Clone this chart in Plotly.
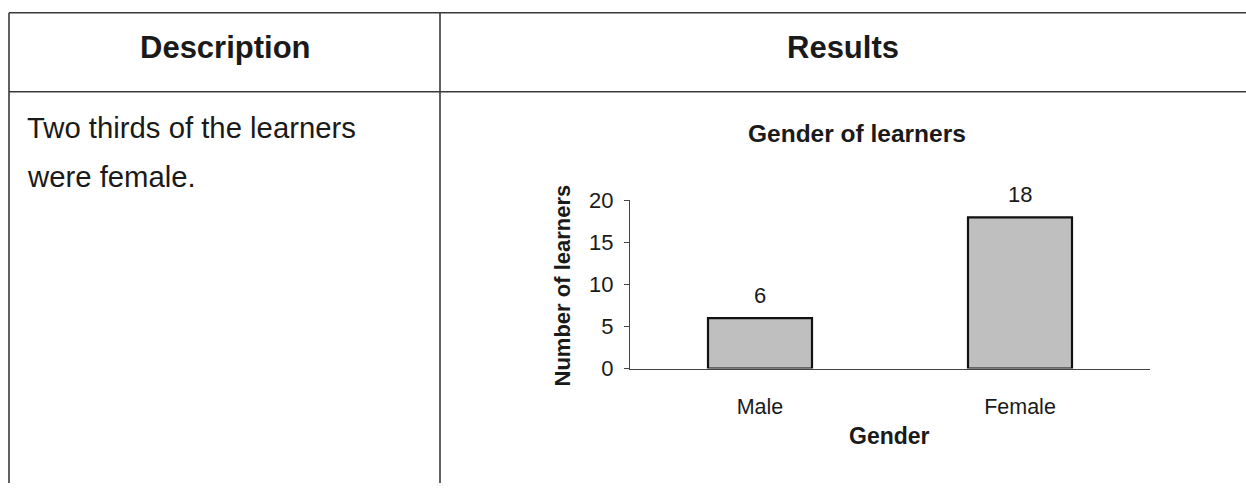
import plotly.graph_objects as go

# Survey data
genders = ["Male", "Female"]
learner_counts = [6, 18]
y_ticks = [0, 5, 10, 15, 20]

W, H = 1246, 496
FONT = "Liberation Sans, Arial, sans-serif"
INK = "#1a1a1a"
LINE = "#3a3a3a"


def px(x):
    return x / W


def py(y):
    return 1 - y / H


fig = go.Figure()

fig.add_trace(go.Bar(
    x=genders,
    y=learner_counts,
    width=0.4,
    marker=dict(color="#bfbfbf", line=dict(color="#111111", width=2.2)),
    showlegend=False,
    hoverinfo="x+y",
))

# value labels above each bar
annotations = []
for g, v in zip(genders, learner_counts):
    annotations.append(dict(
        x=g, y=v, xref="x", yref="y", text=str(v), showarrow=False,
        yanchor="bottom", yshift=8,
        font=dict(family=FONT, size=22, color=INK),
    ))

# table headers and description cell
annotations += [
    dict(x=px(225), y=py(37), xref="paper", yref="paper", text="<b>Description</b>",
         showarrow=False, xanchor="center", yanchor="middle",
         font=dict(family=FONT, size=31, color=INK)),
    dict(x=px(843), y=py(37), xref="paper", yref="paper", text="<b>Results</b>",
         showarrow=False, xanchor="center", yanchor="middle",
         font=dict(family=FONT, size=31, color=INK)),
    dict(x=px(25), y=py(122), xref="paper", yref="paper", text="Two thirds of the learners",
         showarrow=False, xanchor="left", yanchor="middle",
         font=dict(family=FONT, size=29.3, color=INK)),
    dict(x=px(25), y=py(173), xref="paper", yref="paper", text="were female.",
         showarrow=False, xanchor="left", yanchor="middle",
         font=dict(family=FONT, size=29.3, color=INK)),
    # chart titles
    dict(x=px(857), y=py(128), xref="paper", yref="paper", text="<b>Gender of learners</b>",
         showarrow=False, xanchor="center", yanchor="middle",
         font=dict(family=FONT, size=24.5, color=INK)),
    dict(x=px(889), y=py(446), xref="paper", yref="paper", text="<b>Gender</b>",
         showarrow=False, xanchor="center", yanchor="middle",
         font=dict(family=FONT, size=23, color=INK)),
    dict(x=px(562), y=py(288), xref="paper", yref="paper", text="<b>Number of learners</b>",
         showarrow=False, xanchor="center", yanchor="middle", textangle=-90,
         font=dict(family=FONT, size=22, color=INK)),
]

# table rules
shapes = [
    dict(type="line", xref="paper", yref="paper", x0=px(9), x1=1, y0=py(0.8), y1=py(0.8),
         line=dict(color=LINE, width=1.6)),
    dict(type="line", xref="paper", yref="paper", x0=px(9), x1=1, y0=py(84), y1=py(84),
         line=dict(color=LINE, width=1.6)),
    dict(type="line", xref="paper", yref="paper", x0=px(9), x1=px(9), y0=py(0.8), y1=0,
         line=dict(color=LINE, width=1.6)),
    dict(type="line", xref="paper", yref="paper", x0=px(440), x1=px(440), y0=py(0.8), y1=0,
         line=dict(color=LINE, width=1.6)),
]

fig.update_layout(
    width=W, height=H,
    margin=dict(l=0, r=0, t=0, b=0),
    paper_bgcolor="white", plot_bgcolor="white",
    annotations=annotations,
    shapes=shapes,
    xaxis=dict(
        domain=[px(630), px(1150)],
        type="category", range=[-0.5, 1.5],
        showline=True, linecolor="#444444", linewidth=1.2,
        ticks="outside", ticklen=0, ticklabelstandoff=19,
        showgrid=False, zeroline=False,
        tickfont=dict(family=FONT, size=21.5, color=INK),
    ),
    yaxis=dict(
        domain=[py(375.5), py(198.5)],
        range=[0, 20], tickvals=y_ticks,
        showline=True, linecolor="#444444", linewidth=1.2,
        ticks="outside", ticklen=5, tickcolor="#444444", ticklabelstandoff=6,
        showgrid=False, zeroline=False,
        tickfont=dict(family=FONT, size=22, color=INK),
    ),
)

fig.write_html("out.html")
